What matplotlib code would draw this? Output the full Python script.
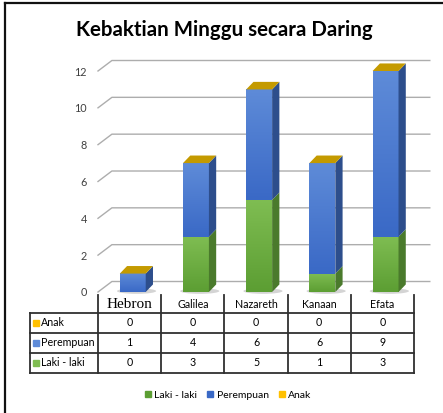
import numpy as np
import matplotlib
matplotlib.use("Agg")
import matplotlib.pyplot as plt
from matplotlib.colors import LinearSegmentedColormap
from matplotlib.patches import Polygon, Ellipse
from matplotlib.lines import Line2D
from matplotlib.transforms import blended_transform_factory

# ---------------- data ----------------
title = "Kebaktian Minggu secara Daring"
categories = ["Hebron", "Galilea", "Nazareth", "Kanaan", "Efata"]
series_names = ["Laki - laki", "Perempuan", "Anak"]
laki = [0, 3, 5, 1, 3]
perempuan = [1, 4, 6, 6, 9]
anak = [0, 0, 0, 0, 0]
series_values = [laki, perempuan, anak]
yticks = [0, 2, 4, 6, 8, 10, 12]

# ---------------- style ----------------
W, H = 443, 413
front_light = ["#7fbd52", "#5e8bd8", "#ffcc33"]
front_dark = ["#5c9e33", "#3a69c6", "#e0a800"]
side_col = ["#4a7a2c", "#2d4e8c", "#9c7600"]
top_col = ["#8cc45c", "#6b93da", "#c49a00"]
FONT = "Lato"
grid_col = "#adadad"
text_col = "#404040"

fig = plt.figure(figsize=(W / 100, H / 100), dpi=100)
ax = fig.add_axes([98 / W, (H - 292) / H, 316 / W, 221 / H])
ax.set_xlim(-0.5, 4.5)
ax.set_ylim(0, 12)
for s in ax.spines.values():
    s.set_visible(False)
ax.set_xticks([])
ax.set_yticks(yticks)
ax.set_yticklabels([str(v) for v in yticks], fontsize=7.8, family=FONT, color=text_col)
ax.tick_params(axis="y", length=0, pad=8)
ax.patch.set_alpha(0)

# back wall / side wall gridlines
wdx, wdy, xend = 0.22, 0.57, 4.75
for v in yticks:
    ax.plot([-0.5, -0.5 + wdx, xend], [v, v + wdy, v + wdy], color=grid_col,
            lw=1.0, clip_on=False, zorder=1)

# bars
xoff, hw, bdx, bdy = 0.05, 0.205, 0.115, 0.41
n = len(categories)
for i in range(n):
    xc = i + xoff
    x1, x2 = xc - hw, xc + hw
    ax.add_patch(Ellipse((xc + 0.06, 0.05), 0.62, 0.3, color="#555555", alpha=0.25,
                         lw=0, zorder=2, clip_on=False))
    bottom = 0
    for k, vals in enumerate(series_values):
        v = vals[i]
        top = bottom + v
        if v > 0:
            cmap = LinearSegmentedColormap.from_list("g", [front_light[k], front_dark[k]])
            grad = np.linspace(0, 1, 64).reshape(-1, 1)
            ax.imshow(grad, cmap=cmap, extent=[x1, x2, bottom, top], origin="upper",
                      aspect="auto", zorder=3, interpolation="bicubic", clip_on=False)
            ax.add_patch(Polygon([(x2, bottom), (x2 + bdx, bottom + bdy),
                                  (x2 + bdx, top + bdy), (x2, top)],
                                 closed=True, fc=side_col[k], ec="none", zorder=3,
                                 clip_on=False))
        bottom = top
    kt = len(series_values) - 1
    ax.add_patch(Polygon([(x1, bottom), (x2, bottom), (x2 + bdx, bottom + bdy),
                          (x1 + bdx, bottom + bdy)], closed=True, fc=top_col[kt],
                         ec="none", zorder=4, clip_on=False))
ax.set_xlim(-0.5, 4.5)
ax.set_ylim(0, 12)

# ---------------- data table ----------------
tr = blended_transform_factory(ax.transData, fig.transFigure)
def fy(p):
    return 1 - p / H
lc, lw = "#303030", 1.3
x_left = -0.5 - 68 / 63.2
for k in range(n + 1):
    ax.add_line(Line2D([-0.5 + k, -0.5 + k], [fy(295), fy(373)], transform=tr,
                       color=lc, lw=lw, clip_on=False))
for p in [313, 333, 353, 373]:
    ax.add_line(Line2D([x_left, 4.5], [fy(p), fy(p)], transform=tr, color=lc, lw=lw,
                       clip_on=False))
ax.add_line(Line2D([x_left, x_left], [fy(313), fy(373)], transform=tr, color=lc, lw=lw,
                   clip_on=False))
for i, c in enumerate(categories):
    if i == 0:
        ax.text(i, fy(304), c, transform=tr, ha="center", va="center",
                family="Liberation Serif", fontsize=11, color="black")
    else:
        ax.text(i, fy(305), c, transform=tr, ha="center", va="center",
                family=FONT, fontsize=7.7, color="black")
row_order = [2, 1, 0]
row_y = [323, 343, 363]
for r, k in enumerate(row_order):
    yy = fy(row_y[r])
    ax.plot([x_left + 0.09], [yy], marker="s", ms=4.5, color=front_light[k] if k != 2 else "#ffc000",
            transform=tr, clip_on=False, lw=0)
    ax.text(x_left + 0.18, yy, series_names[k], transform=tr, ha="left", va="center",
            family=FONT, fontsize=7.7, color="black")
    for i in range(n):
        ax.text(i, yy, str(series_values[k][i]), transform=tr, ha="center", va="center",
                family=FONT, fontsize=7.7, color="black")

# ---------------- legend ----------------
handles = [Line2D([], [], marker="s", ls="", ms=5, color=c)
           for c in [front_dark[0], front_dark[1], "#ffc000"]]
fig.legend(handles, series_names, loc="center", bbox_to_anchor=(228 / W, fy(395)),
           ncol=3, frameon=False, handlelength=0.6, handletextpad=0.3,
           columnspacing=1.0, prop={"family": FONT, "size": 7.5})

# ---------------- title & border ----------------
fig.text(224 / W, fy(30), title, ha="center", va="center", family=FONT,
         fontweight="bold", fontsize=14.8, color="black")
fig.add_artist(Line2D([5 / W, 5 / W], [0, fy(3)], color="#111111", lw=1.6))
fig.add_artist(Line2D([5 / W, 1], [fy(3), fy(3)], color="#111111", lw=1.6))

fig.savefig("out.png", dpi=100)
